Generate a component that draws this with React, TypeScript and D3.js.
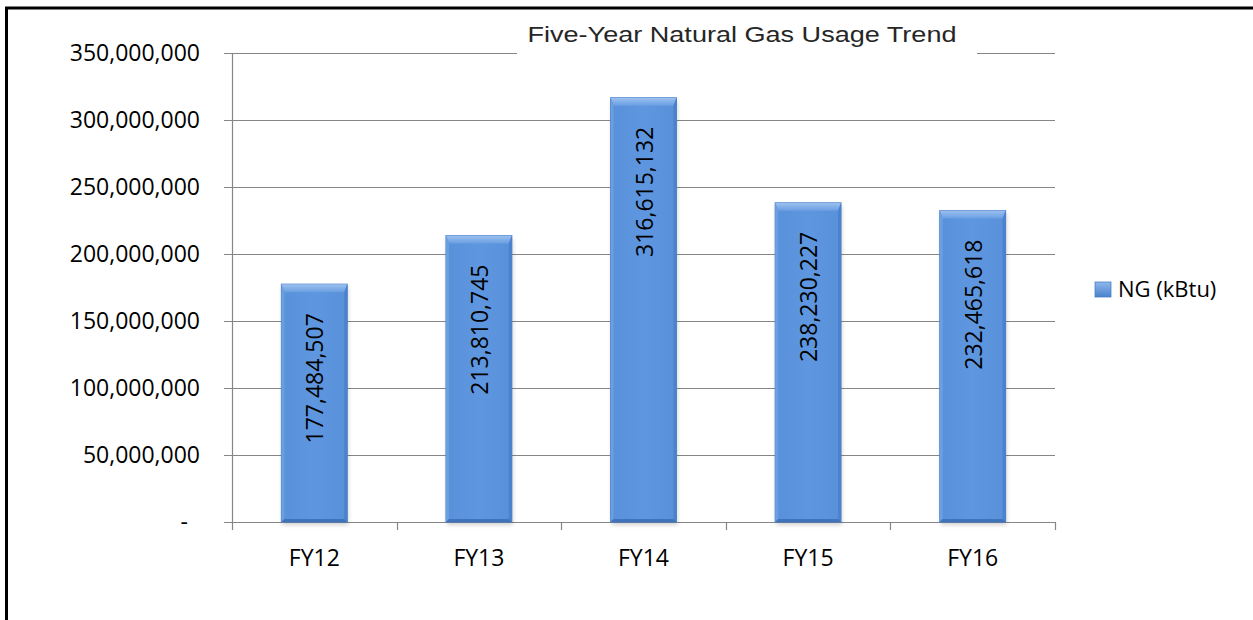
import React from "react";
import * as d3 from "d3";

const categories = ["FY12", "FY13", "FY14", "FY15", "FY16"];
const values = [177484507, 213810745, 316615132, 238230227, 232465618];
const yTicks = [0, 50000000, 100000000, 150000000, 200000000, 250000000, 300000000, 350000000];
const seriesName = "NG (kBtu)";
const title = "Five-Year Natural Gas Usage Trend";

const W = 1253;
const H = 620;
const plot = { left: 232, right: 1055, top: 53, bottom: 522 };
const tickFont = "'Open Sans', Carlito, Calibri, sans-serif";

export default function App() {
  const x = d3
    .scaleBand<string>()
    .domain(categories)
    .range([plot.left, plot.right])
    .paddingInner(0.6)
    .paddingOuter(0.3);
  const y = d3.scaleLinear().domain([0, 350000000]).range([plot.bottom, plot.top]);
  const fmt = d3.format(",");
  const step = x.step();
  const bw = x.bandwidth();
  const bev = 8;
  const side = 3;

  return (
    <svg
      width={W}
      height={H}
      style={{ position: "absolute", left: 0, top: 0, display: "block", background: "#fff" }}
    >
      <defs>
        <linearGradient id="barFace" x1="0" x2="1" y1="0" y2="0">
          <stop offset="0" stopColor="#5890d9" />
          <stop offset="0.5" stopColor="#5e97df" />
          <stop offset="1" stopColor="#5890d9" />
        </linearGradient>
        <linearGradient id="topBev" x1="0" x2="0" y1="0" y2="1">
          <stop offset="0" stopColor="#9cc0ef" />
          <stop offset="1" stopColor="#6a9fe2" />
        </linearGradient>
        <linearGradient id="legFace" x1="0" x2="0" y1="0" y2="1">
          <stop offset="0" stopColor="#8fb8ec" />
          <stop offset="1" stopColor="#4a82cc" />
        </linearGradient>
        <filter id="shadow" x="-20%" y="-5%" width="140%" height="115%">
          <feGaussianBlur stdDeviation="2" />
        </filter>
      </defs>
      <rect x={0} y={0} width={W} height={H} fill="#fff" />
      {/* frame */}
      <rect x={6.5} y={8} width={W + 20} height={H + 20} fill="none" stroke="#000" strokeWidth={3} />

      {/* gridlines and y ticks */}
      {yTicks.map((t) => (
        <g key={t}>
          <line
            x1={plot.left - 8}
            x2={plot.right}
            y1={Math.round(y(t)) + 0.5}
            y2={Math.round(y(t)) + 0.5}
            stroke="#868686"
            strokeWidth={1.2}
          />
          <text
            x={200}
            dx={t === 0 ? -12 : 0}
            y={y(t)}
            dy="0.36em"
            textAnchor="end"
            fontFamily={tickFont}
            fontSize={23}
            fill="#000"
          >
            {t === 0 ? "-" : fmt(t)}
          </text>
        </g>
      ))}
      {/* y axis */}
      <line x1={plot.left + 0.5} x2={plot.left + 0.5} y1={plot.top} y2={plot.bottom} stroke="#868686" strokeWidth={1.2} />
      {/* x ticks */}
      {d3.range(categories.length + 1).map((i) => {
        const xx = Math.round(plot.left + i * step) + 0.5;
        return (
          <line key={i} x1={xx} x2={xx} y1={plot.bottom} y2={plot.bottom + 8} stroke="#868686" strokeWidth={1.2} />
        );
      })}

      {/* bars */}
      {categories.map((c, i) => {
        const x0 = x(c)!;
        const x1 = x0 + bw;
        const y0 = y(values[i]);
        const y1 = y(0);
        return (
          <g key={c}>
            <rect x={x0 + 1} y={y0 + 3} width={bw} height={y1 - y0} fill="#000" opacity={0.18} filter="url(#shadow)" />
            <rect x={x0} y={y0} width={bw} height={y1 - y0} fill="url(#barFace)" stroke="#4a80c8" strokeWidth={1} />
            {/* top bevel */}
            <polygon
              points={`${x0},${y0} ${x1},${y0} ${x1 - side},${y0 + bev} ${x0 + side},${y0 + bev}`}
              fill="url(#topBev)"
            />
            {/* left bevel */}
            <polygon
              points={`${x0},${y0} ${x0 + side},${y0 + bev} ${x0 + side},${y1 - side} ${x0},${y1}`}
              fill="#6c9fe0"
            />
            {/* right bevel */}
            <polygon
              points={`${x1},${y0} ${x1 - side},${y0 + bev} ${x1 - side},${y1 - side} ${x1},${y1}`}
              fill="#4a82cd"
            />
            {/* bottom bevel */}
            <polygon
              points={`${x0},${y1} ${x0 + side},${y1 - side} ${x1 - side},${y1 - side} ${x1},${y1}`}
              fill="#3f74bd"
            />
            <text
              transform={`translate(${x0 + bw / 2 + 9},${y0 + 29}) rotate(-90)`}
              textAnchor="end"
              fontFamily={tickFont}
              fontSize={23}
              fill="#000"
            >
              {fmt(values[i])}
            </text>
          </g>
        );
      })}

      {/* x labels */}
      {categories.map((c) => (
        <text
          key={c}
          x={x(c)! + bw / 2}
          y={566}
          textAnchor="middle"
          fontFamily={tickFont}
          fontSize={23}
          fill="#000"
        >
          {c}
        </text>
      ))}

      {/* title */}
      <rect x={517} y={18} width={460} height={40} fill="#fff" />
      <text
        x={742}
        y={42}
        textAnchor="middle"
        fontFamily="'Liberation Sans', Arial, sans-serif"
        fontSize={22}
        fill="#262626"
        textLength={429}
        lengthAdjust="spacingAndGlyphs"
      >
        {title}
      </text>

      {/* legend */}
      <rect x={1095} y={282} width={16} height={15} fill="url(#legFace)" stroke="#4a7fc4" strokeWidth={0.8} />
      <text x={1118} y={297} fontFamily={tickFont} fontSize={22} fill="#000">
        {seriesName}
      </text>
    </svg>
  );
}
